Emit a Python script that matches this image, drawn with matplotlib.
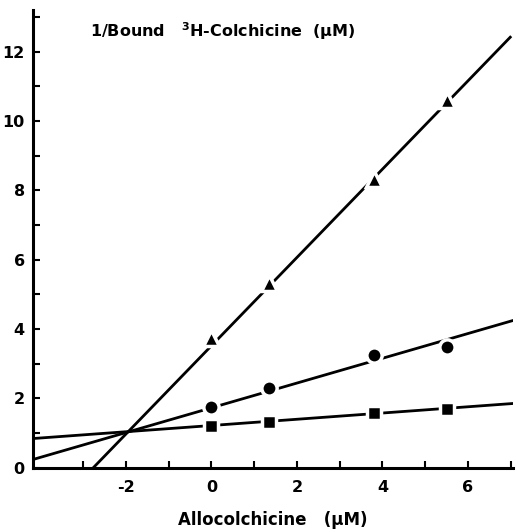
import numpy as np
import matplotlib
matplotlib.use('Agg')
import matplotlib.pyplot as plt

plt.rcParams['font.family'] = ['DejaVu Sans']
plt.rcParams['font.weight'] = 'bold'
plt.rcParams['axes.unicode_minus'] = False
plt.rcParams['mathtext.default'] = 'bf'

# allocolchicine concentrations (uM)
allo = [0.0, 1.35, 3.8, 5.5]

# 1/bound 3H-colchicine for each series
tri_y = [3.74, 5.32, 8.32, 10.6]
circ_y = [1.75, 2.31, 3.25, 3.49]
sq_y = [1.21, 1.33, 1.58, 1.69]

# fitted lines: slope, intercept, x range
tri_fit = (1.273, 3.52, -2.77, 6.99)
circ_fit = (0.357, 1.73, -4.17, 7.03)
sq_fit = (0.090, 1.22, -4.17, 7.03)

fig = plt.figure(figsize=(5.18, 5.31), dpi=100)
ax = fig.add_axes([0.064, 0.119, 0.926, 0.862])

for fit, ys, mk, ms in [(tri_fit, tri_y, '^', 12),
                        (circ_fit, circ_y, 'o', 11),
                        (sq_fit, sq_y, 's', 10)]:
    slope, icpt, x0, x1 = fit
    xs = np.array([x0, x1])
    ax.plot(xs, slope * xs + icpt, color='black', lw=2, zorder=2)
    ax.plot(allo, ys, linestyle='none', marker=mk, ms=ms, color='black',
            mec='white', mew=2.5, zorder=3)

ax.set_xlim(-4.17, 7.05)
ax.set_ylim(0, 13.2)

for s in ['top', 'right']:
    ax.spines[s].set_visible(False)
for s in ['left', 'bottom']:
    ax.spines[s].set_linewidth(2.2)

ax.set_xticks([-2, 0, 2, 4, 6])
ax.set_xticks(np.arange(-3, 8, 1), minor=True)
ax.set_yticks(np.arange(0, 13, 2))
ax.set_yticks(np.arange(1, 14, 2), minor=True)
ax.tick_params(which='both', direction='in', length=5, width=1.5)
ax.tick_params(axis='x', which='major', pad=9, labelsize=11.5)
ax.tick_params(axis='y', which='major', pad=6, labelsize=11.5)

ax.text(0.118, 0.955, '1/Bound   $^{3}$H-Colchicine  (\u03bcM)', transform=ax.transAxes,
        fontsize=11.5, fontweight='bold', va='center', ha='left')
ax.set_xlabel('Allocolchicine   (\u03bcM)', fontsize=12, fontweight='bold', labelpad=11)

fig.savefig('out.png', dpi=100)
